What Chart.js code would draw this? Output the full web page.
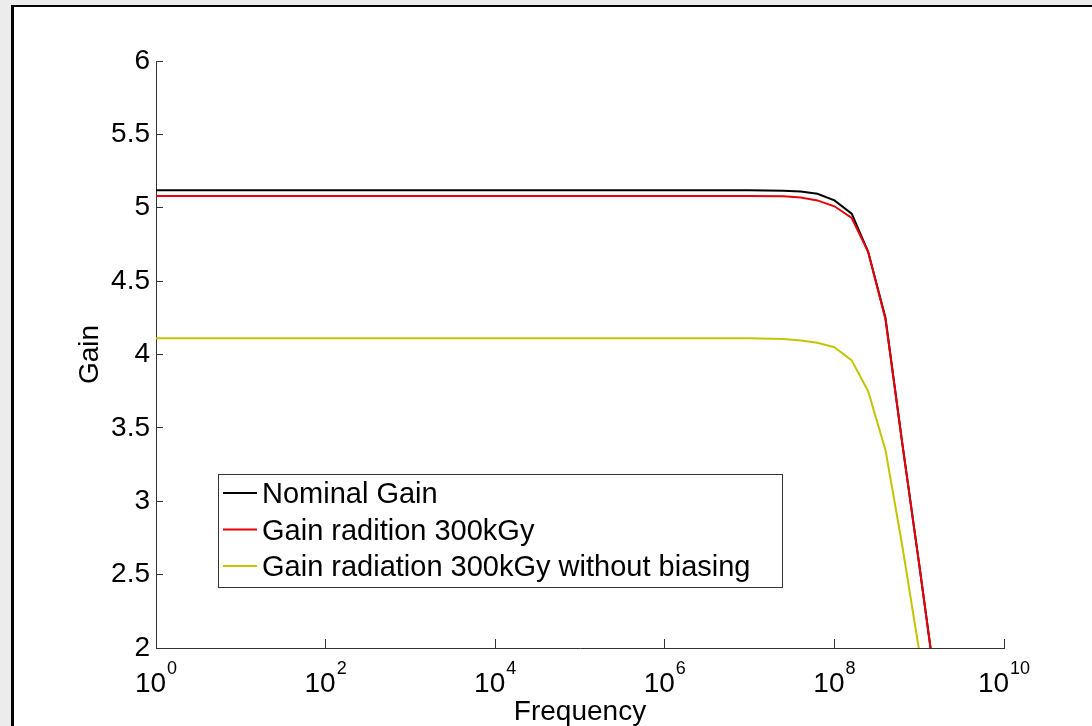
<!DOCTYPE html>
<html lang="en">
<head>
<meta charset="UTF-8">
<title>Gain vs Frequency</title>
<script src="https://cdn.jsdelivr.net/npm/chart.js"></script>
<style>
  html, body { margin: 0; padding: 0; width: 1092px; height: 726px; overflow: hidden; background: #ececec; }
  /* white figure with black frame, cut off at right and bottom */
  .frame { position: absolute; left: 11px; top: 5px; width: 1200px; height: 800px; background: #fff; border-left: 3px solid #000; border-top: 2px solid #000; }
  #gainChart { position: absolute; left: 0; top: 0; }
</style>
</head>
<body>
<div class="frame"></div>
<canvas id="gainChart" width="1092" height="726"></canvas>
<script>
// data
const frequency   = [1, 1e7, 2.5e7, 4e7, 6.3e7, 1e8, 1.6e8, 2.5e8, 4e8, 6.3e8, 1e9, 1.6e9];
const nominalGain = [5.12, 5.12, 5.115, 5.11, 5.095, 5.05, 4.96, 4.70, 4.25, 3.40, 2.57, 1.70];
const gain300kGy  = [5.08, 5.08, 5.078, 5.07, 5.05, 5.01, 4.93, 4.70, 4.24, 3.40, 2.57, 1.70];
const gainNoBias  = [4.11, 4.11, 4.105, 4.095, 4.08, 4.05, 3.96, 3.75, 3.35, 2.70, 1.98, 1.20];

const seriesNames = ['Nominal Gain', 'Gain radition 300kGy', 'Gain radiation 300kGy without biasing'];
const xTickExps = [0, 2, 4, 6, 8, 10];
const yTicks = [2, 2.5, 3, 3.5, 4, 4.5, 5, 5.5, 6];

const FONT = '"Liberation Sans", Arial, sans-serif';
const toPoints = vals => frequency.map((f, i) => ({ x: f, y: vals[i] }));

// x tick labels drawn as 10 with a raised exponent
const powerLabels = {
    id: 'powerLabels',
    afterDraw(chart) {
        const { ctx } = chart;
        const x = chart.scales.x;
        ctx.save();
        ctx.fillStyle = '#000';
        ctx.textBaseline = 'alphabetic';
        ctx.textAlign = 'left';
        xTickExps.forEach(e => {
            const px = x.getPixelForValue(Math.pow(10, e));
            ctx.font = '28px ' + FONT;
            const wBase = ctx.measureText('10').width;
            ctx.font = '18px ' + FONT;
            const wExp = ctx.measureText(String(e)).width;
            const left = px - (wBase + wExp + 1) / 2;
            ctx.font = '28px ' + FONT;
            ctx.fillText('10', left, 692);
            ctx.font = '18px ' + FONT;
            ctx.fillText(String(e), left + wBase + 1, 674);
        });
        ctx.restore();
    }
};

// boxed legend inside the axes
const boxLegend = {
    id: 'boxLegend',
    afterDraw(chart) {
        const { ctx } = chart;
        const left = 218, top = 474, right = 782, bottom = 587;
        ctx.save();
        ctx.fillStyle = '#fff';
        ctx.fillRect(left, top, right - left, bottom - top);
        ctx.strokeStyle = '#333';
        ctx.lineWidth = 1;
        ctx.strokeRect(left + 0.5, top + 0.5, right - left, bottom - top);
        ctx.font = '29px ' + FONT;
        ctx.textBaseline = 'alphabetic';
        ctx.fillStyle = '#000';
        chart.data.datasets.forEach((ds, i) => {
            const base = 503 + i * 36.5;
            ctx.strokeStyle = ds.borderColor;
            ctx.lineWidth = 2;
            ctx.beginPath();
            ctx.moveTo(223, base - 10);
            ctx.lineTo(257, base - 10);
            ctx.stroke();
            ctx.fillText(ds.label, 262, base);
        });
        ctx.restore();
    }
};

new Chart(document.getElementById('gainChart'), {
    type: 'line',
    data: {
        datasets: [
            { label: seriesNames[0], data: toPoints(nominalGain), borderColor: '#000000', order: 2 },
            { label: seriesNames[1], data: toPoints(gain300kGy), borderColor: '#e8000b', order: 1 },
            { label: seriesNames[2], data: toPoints(gainNoBias), borderColor: '#c4c400', order: 0 }
        ]
    },
    options: {
        responsive: false,
        animation: false,
        devicePixelRatio: 1,
        layout: { padding: { left: 0, top: 61, right: 88, bottom: 0 } },
        elements: {
            line: { borderWidth: 2, tension: 0, fill: false },
            point: { radius: 0 }
        },
        plugins: {
            legend: { display: false },
            tooltip: { enabled: false }
        },
        scales: {
            x: {
                type: 'logarithmic',
                min: 1,
                max: 1e10,
                afterBuildTicks: s => { s.ticks = xTickExps.map(e => ({ value: Math.pow(10, e) })); },
                afterFit: s => { s.height = 78; },
                ticks: { display: false },
                grid: { drawOnChartArea: false, tickLength: -9, color: '#333' },
                border: { color: '#333', width: 1 },
                title: {
                    display: true, text: 'Frequency', color: '#000',
                    font: { family: FONT, size: 28 }, padding: { top: 0, bottom: -3 }
                }
            },
            y: {
                min: 2,
                max: 6,
                afterBuildTicks: s => { s.ticks = yTicks.map(v => ({ value: v })); },
                afterFit: s => { s.width = 156; },
                ticks: {
                    color: '#000', font: { family: FONT, size: 28 }, padding: 13,
                    callback: v => String(v)
                },
                grid: { drawOnChartArea: false, tickLength: -7, color: '#333' },
                border: { color: '#333', width: 1 },
                title: {
                    display: true, text: 'Gain', color: '#000',
                    font: { family: FONT, size: 28 }, padding: { top: 73, bottom: 0 }
                }
            }
        }
    },
    plugins: [powerLabels, boxLegend]
});
</script>
</body>
</html>
